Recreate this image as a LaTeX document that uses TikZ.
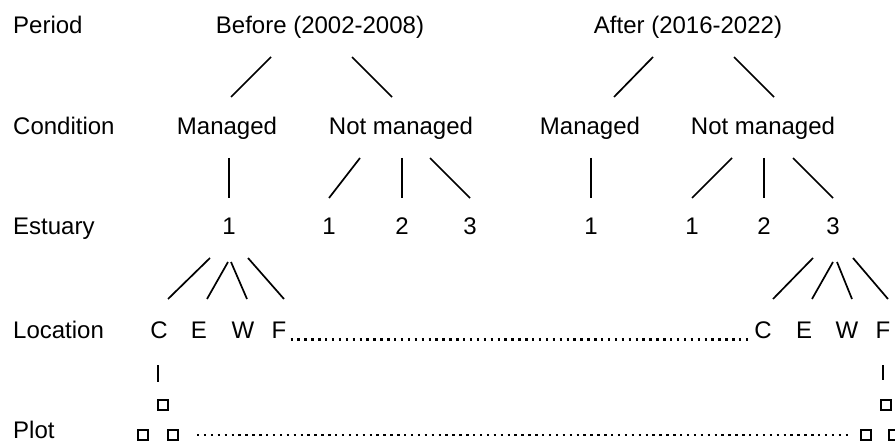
\documentclass[tikz,border=0pt]{standalone}
\usepackage{fontspec}
\setmainfont{Liberation Sans}
\begin{document}
\begin{tikzpicture}[x=1pt,y=-1pt,
  txt/.style={font=\fontsize{24}{28}\selectfont, inner sep=0pt, anchor=base},
  lbl/.style={txt, anchor=base west},
  br/.style={line width=1.7pt, black},
  dots/.style={line width=2.4pt, dash pattern=on 2.4pt off 4.5pt},
  plotbox/.style={draw, line width=1.8pt, minimum width=10pt, minimum height=10pt, inner sep=0pt, outer sep=0pt}]
\useasboundingbox (0,0) rectangle (895,441);
% row labels
\node[lbl] (lPeriod) at (13,34) {Period};
\node[lbl] (lCond) at (13,135) {Condition};
\node[lbl] (lEst) at (13,235) {Estuary};
\node[lbl] (lLoc) at (13,338) {Location};
\node[lbl] (lPlot) at (13,438) {Plot};
% periods
\node[txt] (before) at (320,34) {Before (2002-2008)};
\node[txt] (after) at (688,34) {After (2016-2022)};
% conditions
\node[txt] (bM) at (227,135) {Managed};
\node[txt] (bN) at (401,135) {Not managed};
\node[txt] (aM) at (590,135) {Managed};
\node[txt] (aN) at (763,135) {Not managed};
% estuaries
\node[txt] (bM1) at (229,235) {1};
\node[txt] (bN1) at (329,235) {1};
\node[txt] (bN2) at (402,235) {2};
\node[txt] (bN3) at (470,235) {3};
\node[txt] (aM1) at (591,235) {1};
\node[txt] (aN1) at (692,235) {1};
\node[txt] (aN2) at (764,235) {2};
\node[txt] (aN3) at (833,235) {3};
% locations
\node[txt] (bC) at (159,338) {C};
\node[txt] (bE) at (199,338) {E};
\node[txt] (bW) at (243,338) {W};
\node[txt] (bF) at (279,338) {F};
\node[txt] (aC) at (763,338) {C};
\node[txt] (aE) at (804,338) {E};
\node[txt] (aW) at (847,338) {W};
\node[txt] (aF) at (883,338) {F};
% plots
\node[plotbox] (bP1) at (163,405) {};
\node[plotbox] (bP2) at (143,435) {};
\node[plotbox] (bP3) at (173,435) {};
\node[plotbox] (aP1) at (886,405) {};
\node[plotbox] (aP2) at (866,435) {};
\node[plotbox] (aP3) at (894,435) {};
% period -> condition
\draw[br] (271,57) -- (231,97);
\draw[br] (352,57) -- (392,97);
\draw[br] (653,57) -- (614,97);
\draw[br] (734,57) -- (774,97);
% condition -> estuary
\draw[br] (229,158) -- (229,198);
\draw[br] (360,158) -- (329,198);
\draw[br] (402,158) -- (402,198);
\draw[br] (430,158) -- (470,198);
\draw[br] (591,158) -- (591,198);
\draw[br] (732,158) -- (692,198);
\draw[br] (764,158) -- (764,198);
\draw[br] (793,158) -- (833,198);
% estuary -> location
\draw[br] (210,258) -- (168,299);
\draw[br] (228,262) -- (207,299);
\draw[br] (231,262) -- (247,299);
\draw[br] (248,258) -- (284,299);
\draw[br] (813,258) -- (773,299);
\draw[br] (833,262) -- (812,299);
\draw[br] (837,262) -- (852,299);
\draw[br] (853,258) -- (888,299);
% location -> plot
\draw[br] (158,365) -- (158,382);
\draw[br] (883,365) -- (883,380);
% dotted continuations
\draw[dots] ([xshift=4pt,yshift=-1.5pt]bF.base east) -- ([xshift=-4pt,yshift=-1.5pt]aC.base west);
\draw[dots] ([xshift=24pt]bP3.center) -- ([xshift=-16pt]aP2.center);
\end{tikzpicture}
\end{document}
